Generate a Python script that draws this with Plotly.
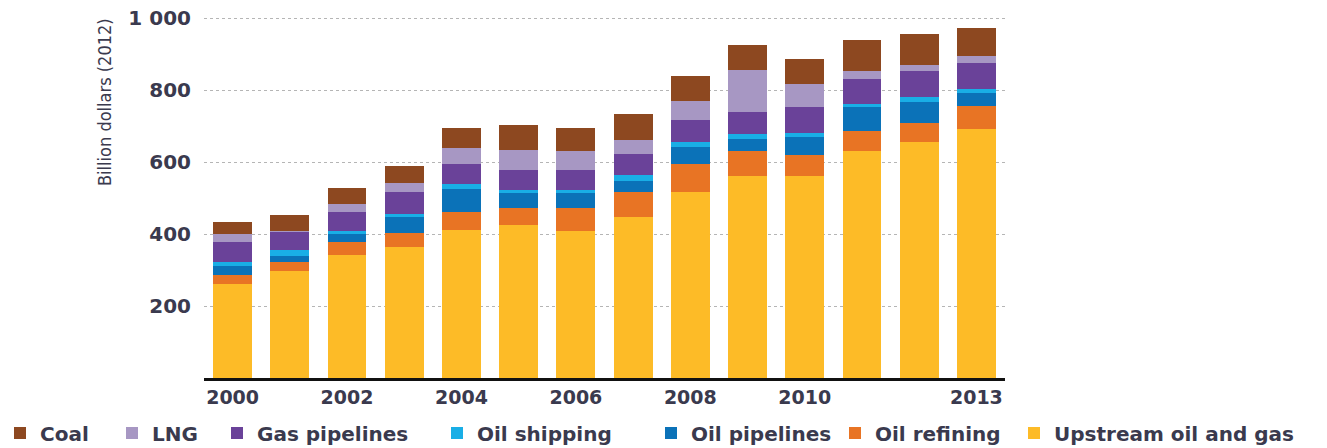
import plotly.graph_objects as go

years = [2000, 2001, 2002, 2003, 2004, 2005, 2006, 2007, 2008, 2009, 2010, 2011, 2012, 2013]
upstream = [261, 296, 342, 365, 411, 424, 409, 447, 517, 560, 560, 631, 656, 692]
oil_refining = [25, 25, 35, 37, 49, 48, 63, 70, 78, 70, 60, 56, 52, 63]
oil_pipelines = [26, 18, 22, 45, 66, 41, 41, 30, 47, 35, 49, 65, 60, 36]
oil_shipping = [9, 17, 9, 9, 13, 8, 8, 18, 14, 13, 13, 9, 14, 13]
gas_pipelines = [56, 51, 53, 61, 55, 57, 57, 56, 62, 61, 70, 69, 70, 70]
lng = [22, 2, 22, 26, 46, 55, 53, 40, 51, 118, 66, 22, 17, 22]
coal = [35, 43, 46, 47, 55, 70, 64, 73, 70, 69, 69, 86, 87, 77]

tick_years = [2000, 2002, 2004, 2006, 2008, 2010, 2013]
y_ticks = [200, 400, 600, 800, 1000]
y_tick_text = ["200", "400", "600", "800", "1 000"]

# name, values, colour, legend id, legend left edge (figure px)
series = [
    ("Upstream oil and gas", upstream, "#FDBB27", "legend7", 1006),
    ("Oil refining", oil_refining, "#E87424", "legend6", 827),
    ("Oil pipelines", oil_pipelines, "#0B72B8", "legend5", 643),
    ("Oil shipping", oil_shipping, "#19AEE6", "legend4", 429),
    ("Gas pipelines", gas_pipelines, "#6A4299", "legend3", 209),
    ("LNG", lng, "#A797C3", "legend2", 104),
    ("Coal", coal, "#8D4820", "legend", -8),
]

W, H = 1327, 448
ML, MR, MT, MB = 196, 330, 9, 78
PW = W - ML - MR
PH = H - MT - MB

font_main = "DejaVu Sans"
txt_color = "#3a3a4e"

fig = go.Figure()
legends = {}
for name, vals, color, leg, left in series:
    fig.add_trace(go.Bar(x=years, y=vals, name=name, legend=leg,
                         marker=dict(color=color, line=dict(width=0))))
    legends[leg] = dict(orientation="h", x=(left - ML) / PW, xanchor="left",
                        y=(PH - (425 - MT)) / PH, yanchor="middle",
                        bgcolor="rgba(0,0,0,0)",
                        font=dict(family=font_main, size=20, color=txt_color, weight="bold"))

fig.update_layout(
    barmode="stack",
    bargap=0.32,
    width=W, height=H,
    margin=dict(l=ML, r=MR, t=MT, b=MB, autoexpand=False),
    plot_bgcolor="white", paper_bgcolor="white",
    showlegend=True,
    xaxis=dict(tickmode="array", tickvals=tick_years, ticktext=[str(t) for t in tick_years],
               range=[1999.5, 2013.5], showgrid=False, showline=True,
               linecolor="#111111", linewidth=3, ticks="",
               tickfont=dict(family=font_main, size=19, color=txt_color, weight="bold")),
    yaxis=dict(range=[0, 1003], tickmode="array", tickvals=y_ticks, ticktext=y_tick_text,
               showgrid=True, gridcolor="#b5b5b5", griddash="dot", gridwidth=1,
               zeroline=False, showline=False, ticks="", ticklabelstandoff=12,
               ticklabeloverflow="allow",
               tickfont=dict(family=font_main, size=20, color=txt_color, weight="bold")),
    annotations=[dict(text="Billion dollars (2012)", xref="paper", yref="paper",
                      x=(97 - ML) / PW, y=(PH - (94 - MT)) / PH, textangle=-90, showarrow=False,
                      xanchor="center", yanchor="middle",
                      font=dict(family="DejaVu Sans Condensed", size=18, color=txt_color))],
    **legends,
)

fig.write_html("out.html")
